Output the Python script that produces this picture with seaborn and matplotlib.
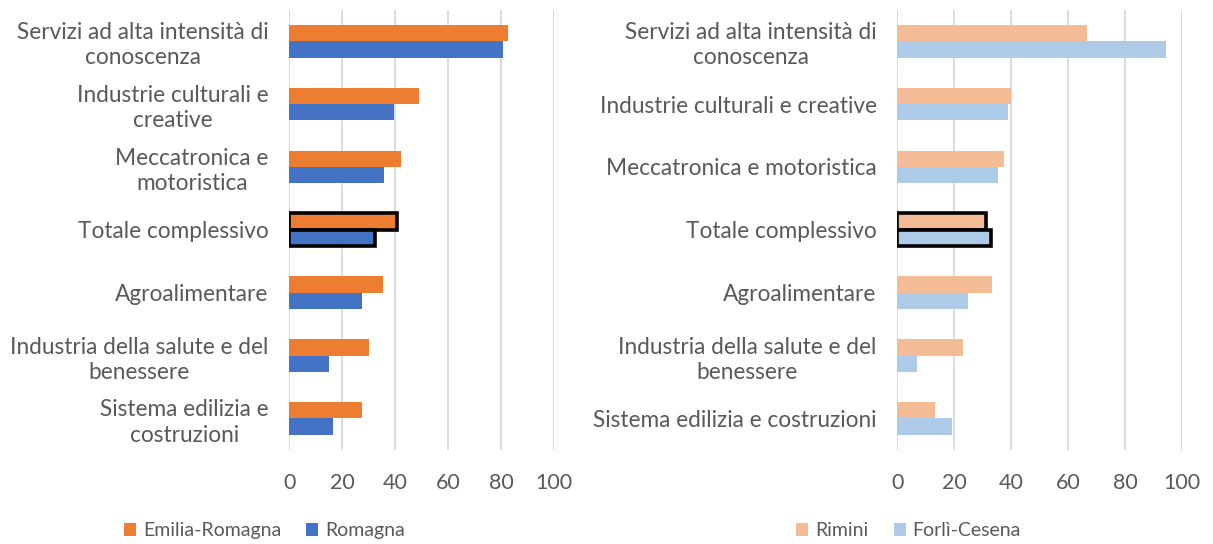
import pandas as pd
import numpy as np
import matplotlib
matplotlib.use('Agg')
import matplotlib.pyplot as plt
import seaborn as sns

# Category labels (wrapped as in the original)
left_categories = ['Servizi ad alta intensità di\nconoscenza', 'Industrie culturali e\ncreative',
                   'Meccatronica e\nmotoristica', 'Totale complessivo', 'Agroalimentare',
                   'Industria della salute e del\nbenessere', 'Sistema edilizia e\ncostruzioni']
right_categories = ['Servizi ad alta intensità di\nconoscenza', 'Industrie culturali e creative',
                    'Meccatronica e motoristica', 'Totale complessivo', 'Agroalimentare',
                    'Industria della salute e del\nbenessere', 'Sistema edilizia e costruzioni']

# Values
emilia_romagna = [82.5, 49.0, 42.0, 40.5, 35.5, 30.2, 27.6]
romagna = [80.5, 39.6, 35.9, 32.2, 27.5, 14.9, 16.3]
rimini = [66.6, 40.0, 37.4, 31.2, 33.2, 23.0, 13.3]
forli_cesena = [94.5, 39.0, 35.2, 32.8, 24.9, 7.0, 19.1]

x_ticks = [0, 20, 40, 60, 80, 100]

sns.set_style('white')
plt.rcParams['font.family'] = ['Lato', 'DejaVu Sans']
text_color = '#595959'

fig = plt.figure(figsize=(12.13, 5.44), dpi=100)
ax_left = fig.add_axes([0.2385, 0.173, 0.2185, 0.809])
ax_right = fig.add_axes([0.7398, 0.173, 0.2347, 0.809])


def draw_panel(ax, cats, s1, s2, names, colors):
    df = pd.DataFrame({
        'categoria': cats + cats,
        'valore': s1 + s2,
        'serie': [names[0]] * len(cats) + [names[1]] * len(cats),
    })
    sns.barplot(data=df, y='categoria', x='valore', hue='serie', orient='h',
                palette=colors, saturation=1, width=0.52, linewidth=0, ax=ax)
    # thick black outline on the total bars
    idx = cats.index('Totale complessivo')
    for cont in ax.containers:
        bar = cont.patches[idx]
        bar.set_edgecolor('black')
        bar.set_linewidth(2.6)
    ax.set_xlim(0, 100)
    ax.set_xticks(x_ticks)
    ax.set_xlabel('')
    ax.set_ylabel('')
    ax.xaxis.grid(True, color='#D9D9D9', linewidth=1.3)
    ax.set_axisbelow(True)
    for s in ax.spines.values():
        s.set_visible(False)
    ax.tick_params(axis='x', length=0, pad=17, labelsize=15.5, labelcolor=text_color)
    ax.tick_params(axis='y', length=0, pad=15, labelsize=16.3, labelcolor=text_color)
    for lab in ax.get_yticklabels():
        lab.set_multialignment('center')
        lab.set_linespacing(1.25)
    handles, labels = ax.get_legend_handles_labels()
    ax.get_legend().remove()
    return handles, labels


h1, l1 = draw_panel(ax_left, left_categories, emilia_romagna, romagna,
                    ['Emilia-Romagna', 'Romagna'], ['#ED7D31', '#4472C4'])
h2, l2 = draw_panel(ax_right, right_categories, rimini, forli_cesena,
                    ['Rimini', 'Forlì-Cesena'], ['#F4BC96', '#ADCBE9'])

leg_kw = dict(ncol=2, frameon=False, fontsize=14, handlelength=0.62, handleheight=0.62,
              handletextpad=0.35, columnspacing=1.3, labelcolor=text_color)
fig.legend(h1, l1, loc='center', bbox_to_anchor=(0.218, 0.024), **leg_kw)
fig.legend(h2, l2, loc='center', bbox_to_anchor=(0.749, 0.024), **leg_kw)

fig.savefig('out.png', dpi=100)
